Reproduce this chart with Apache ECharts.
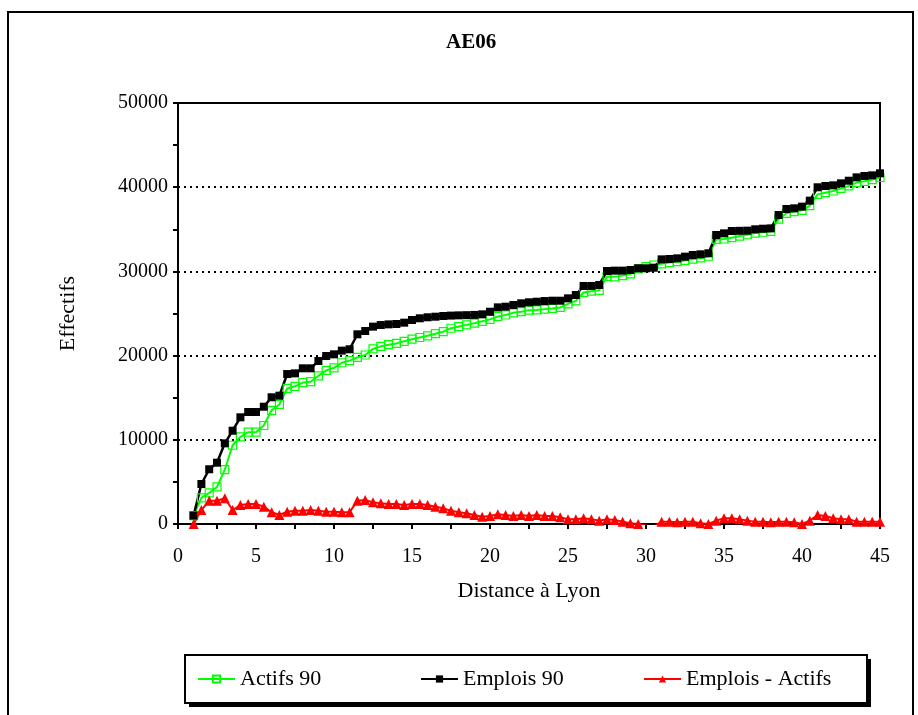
<!DOCTYPE html>
<html>
<head>
<meta charset="utf-8">
<script src="https://cdn.jsdelivr.net/npm/echarts@6/dist/echarts.min.js"></script>
<style>
html,body{margin:0;padding:0;background:#fff;}
#chart{width:918px;height:715px;}
</style>
</head>
<body>
<div id="chart"></div>
<script>
const distances = [1,1.5,2,2.5,3,3.5,4,4.5,5,5.5,6,6.5,7,7.5,8,8.5,9,9.5,10,10.5,11,11.5,12,12.5,13,13.5,14,14.5,15,15.5,16,16.5,17,17.5,18,18.5,19,19.5,20,20.5,21,21.5,22,22.5,23,23.5,24,24.5,25,25.5,26,26.5,27,27.5,28,28.5,29,29.5,30,30.5,31,31.5,32,32.5,33,33.5,34,34.5,35,35.5,36,36.5,37,37.5,38,38.5,39,39.5,40,40.5,41,41.5,42,42.5,43,43.5,44,44.5,45];

const actifs90 = [1000,3100,3700,4400,6450,9350,10350,10900,10900,11700,13500,14200,16100,16350,16800,16900,17600,18250,18550,19150,19400,19780,20070,20800,21100,21300,21450,21700,21950,22150,22350,22600,22840,23250,23450,23650,23850,24070,24300,24650,24820,25080,25220,25400,25420,25520,25600,25720,26150,26500,27500,27650,27750,29400,29350,29500,29700,30300,30560,30760,30900,31050,31150,31300,31450,31600,31800,33800,33850,34000,34200,34350,34550,34650,34750,36200,36900,37100,37250,37800,39150,39350,39550,39850,40150,40550,40700,40900,41150];

const emplois90 = [1000,4750,6500,7280,9580,11080,12670,13300,13300,13930,15050,15240,17810,17890,18490,18490,19360,19950,20150,20590,20750,22530,22920,23440,23630,23710,23750,23910,24230,24430,24550,24620,24700,24750,24780,24800,24830,24900,25210,25730,25810,26010,26210,26330,26400,26480,26520,26520,26800,27200,28270,28270,28390,30050,30090,30090,30170,30370,30370,30440,31430,31470,31550,31750,31950,32030,32150,34320,34520,34800,34820,34840,35000,35070,35110,36700,37410,37490,37690,38400,39990,40140,40220,40460,40770,41170,41330,41410,41650];

const emploisMoinsActifs = [0,1660,2770,2770,3050,1660,2260,2370,2370,2060,1390,1070,1460,1580,1580,1660,1580,1460,1460,1390,1390,2770,2850,2570,2450,2370,2370,2260,2370,2370,2260,2060,1860,1580,1390,1270,1070,870,950,1150,1070,950,1070,950,1070,950,950,800,560,560,680,560,400,560,480,280,80,0,-190,-320,280,280,200,280,280,80,0,400,680,680,560,400,280,280,200,280,280,200,0,400,1070,950,680,560,560,280,280,280,280];

const seriesNames = ['Actifs 90','Emplois 90','Emplois - Actifs'];
const xTicks = {min:0, max:45, step:2.5, labelEvery:5};
const yTicks = {min:0, max:50000, step:5000, labelEvery:10000};

const FONT = '"Liberation Serif", "Times New Roman", serif';
const pair = arr => distances.map((d,i)=>[d, arr[i]]);

const chart = echarts.init(document.getElementById('chart'), null, {renderer:'canvas'});

const grid = {left:178, top:103, width:702, height:421, show:true, borderColor:'#000', borderWidth:2, backgroundColor:'transparent'};

const baseX = {
  type:'value', min:xTicks.min, max:xTicks.max, interval:xTicks.step,
  axisLine:{show:true, lineStyle:{color:'#000', width:2}},
  splitLine:{show:false}
};
const baseY = {
  type:'value', min:yTicks.min, max:yTicks.max, interval:yTicks.step,
  axisLine:{show:true, lineStyle:{color:'#000', width:2}},
  splitLine:{show:false}
};

const legendCommon = {
  top:668, padding:0, itemWidth:37, itemHeight:9, itemGap:10,
  textStyle:{fontFamily:FONT, fontSize:22, color:'#000'},
  selectedMode:false
};

chart.setOption({
  animation:false,
  backgroundColor:'#fff',
  title:{text:'AE06', left:441, top:27,
    textStyle:{fontFamily:FONT, fontSize:21, fontWeight:'bold', color:'#000'}},
  grid:grid,
  graphic:[
    {type:'rect', z:-10, shape:{x:8, y:12, width:905, height:720}, style:{fill:'#fff', stroke:'#000', lineWidth:2}},
    {type:'rect', z:-5, shape:{x:189, y:659, width:682, height:48}, style:{fill:'#000'}},
    {type:'rect', z:-4, shape:{x:185, y:655, width:682, height:48}, style:{fill:'#fff', stroke:'#000', lineWidth:2}}
  ],
  legend:[
    Object.assign({data:[seriesNames[0]], left:197}, legendCommon),
    Object.assign({data:[seriesNames[1]], left:420}, legendCommon),
    Object.assign({data:[seriesNames[2]], left:643}, legendCommon)
  ],
  xAxis:[
    Object.assign({}, baseX, {
      name:'Distance à Lyon', nameLocation:'middle', nameGap:56,
      nameTextStyle:{fontFamily:FONT, fontSize:22, color:'#000'},
      axisTick:{show:true, inside:false, length:5, lineStyle:{color:'#000', width:2}},
      axisLabel:{show:true, margin:23, fontFamily:FONT, fontSize:20, color:'#000',
        formatter:v => (Math.abs(v % xTicks.labelEvery) < 1e-9 ? String(v) : '')}
    }),
    Object.assign({}, baseX, {
      axisTick:{show:true, inside:true, length:5, lineStyle:{color:'#000', width:2}},
      axisLabel:{show:false}
    })
  ],
  yAxis:[
    Object.assign({}, baseY, {
      name:'Effectifs', nameLocation:'middle', nameGap:99, nameRotate:90,
      nameTextStyle:{fontFamily:FONT, fontSize:22, color:'#000'},
      axisTick:{show:true, inside:false, length:5, lineStyle:{color:'#000', width:2}},
      axisLabel:{show:true, margin:10, fontFamily:FONT, fontSize:20, color:'#000',
        formatter:v => (v % yTicks.labelEvery === 0 ? String(v) : '')}
    }),
    Object.assign({}, baseY, {
      axisTick:{show:true, inside:true, length:5, lineStyle:{color:'#000', width:2}},
      axisLabel:{show:false}
    }),
    Object.assign({}, baseY, {
      interval:yTicks.labelEvery,
      axisLine:{show:false}, axisTick:{show:false}, axisLabel:{show:false},
      splitLine:{show:true, lineStyle:{color:'#000', width:2, type:[2,4]}}
    })
  ],
  series:[
    {name:seriesNames[0], type:'line', xAxisIndex:0, yAxisIndex:0, data:pair(actifs90),
      symbol:'rect', symbolSize:8, clip:true,
      lineStyle:{color:'#00ff00', width:2},
      itemStyle:{color:'rgba(255,255,255,0)', borderColor:'#00ff00', borderWidth:1.2}},
    {name:seriesNames[1], type:'line', xAxisIndex:0, yAxisIndex:0, data:pair(emplois90),
      symbol:'rect', symbolSize:8, clip:true,
      lineStyle:{color:'#000', width:2.5},
      itemStyle:{color:'#000'}},
    {name:seriesNames[2], type:'line', xAxisIndex:0, yAxisIndex:0, data:pair(emploisMoinsActifs),
      symbol:'triangle', symbolSize:10, clip:true,
      lineStyle:{color:'#ff0000', width:2},
      itemStyle:{color:'#ff0000'}}
  ]
});
</script>
</body>
</html>
